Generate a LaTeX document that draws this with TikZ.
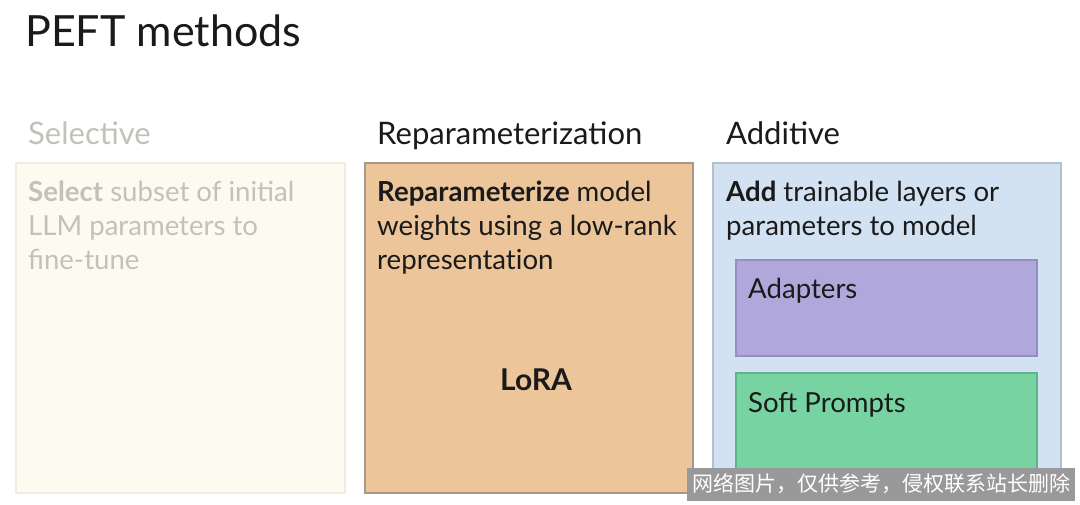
\documentclass[tikz,border=0pt]{standalone}
\usepackage{fontspec}
\setmainfont{Lato}
\newfontfamily\cjk{Noto Sans CJK SC}
\definecolor{selfill}{HTML}{FDFBEF}
\definecolor{selline}{HTML}{EDECE0}
\definecolor{seltext}{HTML}{C2C2BA}
\definecolor{repfill}{HTML}{ECC69A}
\definecolor{repline}{HTML}{A8968A}
\definecolor{addfill}{HTML}{D3E2F2}
\definecolor{addline}{HTML}{B4C0CC}
\definecolor{adpfill}{HTML}{B0A8DA}
\definecolor{adpline}{HTML}{948EC2}
\definecolor{sofill}{HTML}{78D3A2}
\definecolor{soline}{HTML}{5EB38A}
\definecolor{ink}{HTML}{1A1A1A}
\definecolor{wmark}{HTML}{999999}
\tikzset{
  body/.style={anchor=base west, inner sep=0pt, font=\fontsize{27.6}{33}\selectfont, text=ink},
  head/.style={anchor=base west, inner sep=0pt, font=\fontsize{31}{36}\selectfont, text=ink},
  panel/.style={line width=1.2pt}
}
\begin{document}
\begin{tikzpicture}[x=1pt,y=-1pt]
\useasboundingbox[fill=white] (0,0) rectangle (1080,505);
% title
\node[anchor=base west, inner sep=0pt, font=\fontsize{43}{50}\selectfont, text=ink] (title) at (25,47) {PEFT methods};
% headers
\node[head, text=seltext] (hsel) at (28,145) {Selective};
\node[head] (hrep) at (377,145) {Reparameterization};
\node[head] (hadd) at (726,145) {Additive};
% boxes
\draw[panel, fill=selfill, draw=selline] (16,163) rectangle (345,493);
\draw[panel, fill=repfill, draw=repline] (365,163) rectangle (693,493);
\draw[panel, fill=addfill, draw=addline] (713,163) rectangle (1061,494);
\draw[panel, fill=adpfill, draw=adpline] (736,260) rectangle (1037,356);
\draw[panel, fill=sofill, draw=soline] (736,373) rectangle (1037,478);
% selective text
\node[body, text=seltext] (s1) at (28,202) {\textbf{Select} subset of initial};
\node[body, text=seltext] (s2) at (28,236) {LLM parameters to};
\node[body, text=seltext] (s3) at (28,270) {fine-tune};
% reparam text
\node[body] (r1) at (377,202) {\textbf{Reparameterize} model};
\node[body] (r2) at (377,236) {weights using a low-rank};
\node[body] (r3) at (377,270) {{\addfontfeatures{Ligatures=NoCommon}representation}};
\node[anchor=base, inner sep=0pt, font=\fontsize{30}{34}\selectfont\bfseries, text=ink] (lora) at (536,390) {LoRA};
% additive text
\node[body] (a1) at (726,202) {\textbf{Add} trainable layers or};
\node[body] (a2) at (726,236) {parameters to model};
\node[body] (adp) at (748,299) {Adapters};
\node[body] (soft) at (748,412) {Soft Prompts};
% watermark
\node[fill=wmark, minimum width=388pt, minimum height=33pt, inner sep=0pt, text=white, font=\cjk\fontsize{21}{24}\selectfont] (wm) at (881,484) {网络图片，仅供参考，侵权联系站长删除};
\end{tikzpicture}
\end{document}
